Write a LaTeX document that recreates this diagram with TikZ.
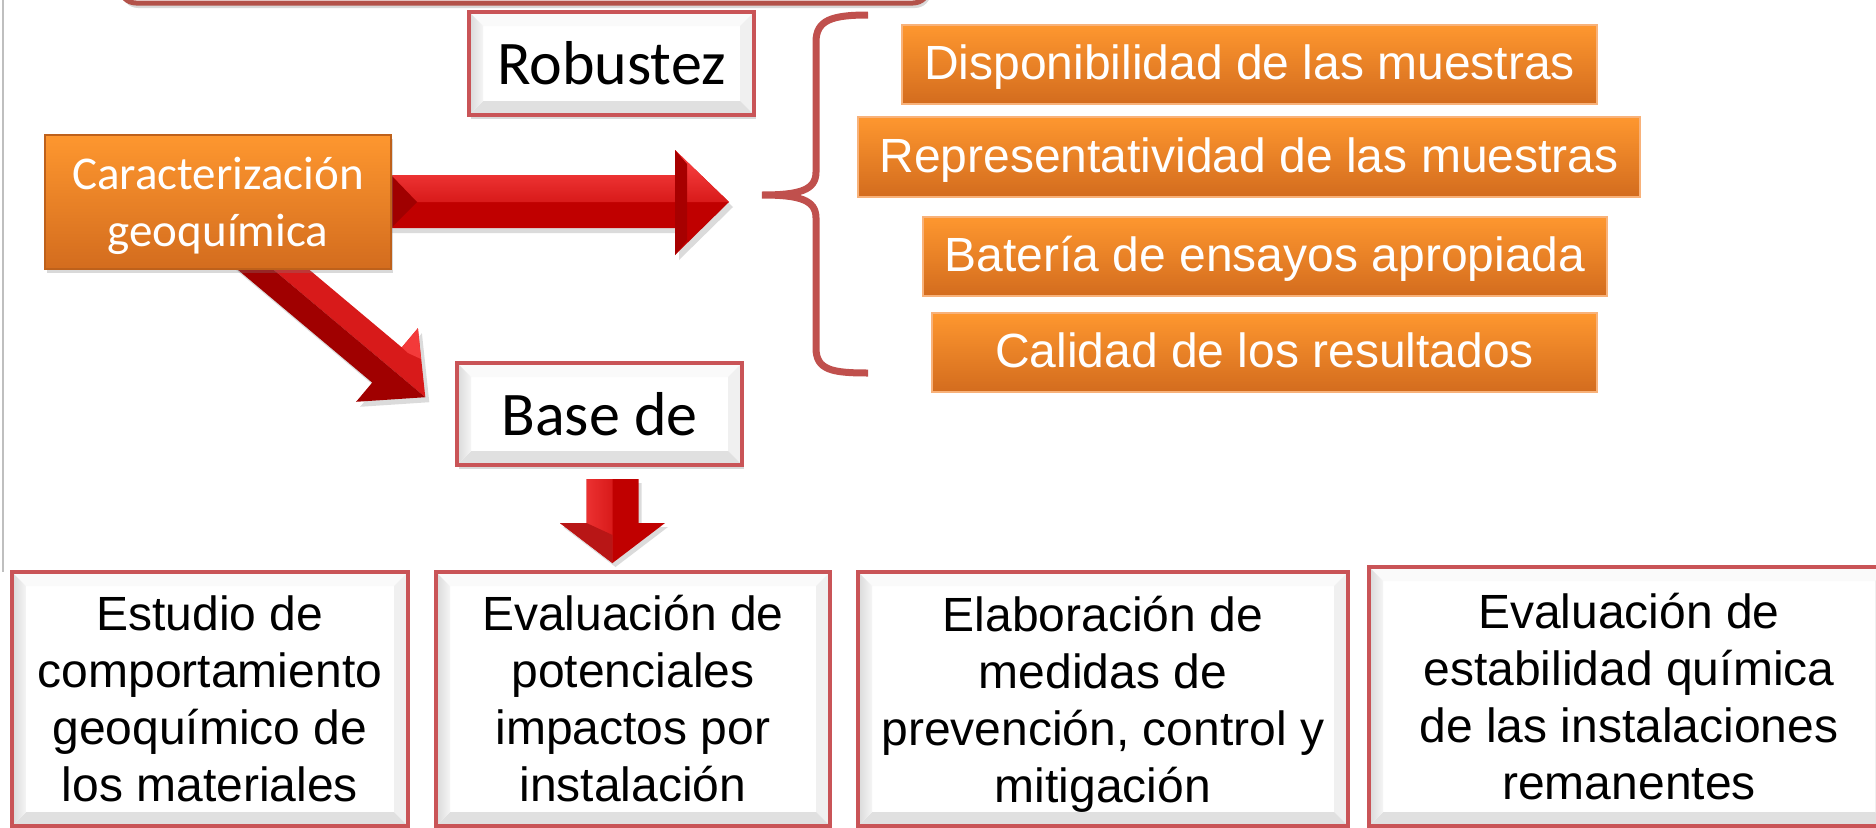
\documentclass[tikz,border=0pt]{standalone}
\usepackage{fontspec}
\setmainfont{Liberation Sans}
\newfontfamily\calib{Carlito}
\usetikzlibrary{shadows,calc}
\definecolor{bord}{HTML}{C95457}
\definecolor{topred}{HTML}{B3524A}
\definecolor{braceRed}{HTML}{C0504D}
\definecolor{oTop}{HTML}{FE972F}
\definecolor{oBot}{HTML}{D36C1E}
\definecolor{oEdge}{HTML}{F8B27A}
\definecolor{rLight}{HTML}{FF4848}
\definecolor{rMid}{HTML}{D81A1A}
\definecolor{rDark}{HTML}{C00000}
\definecolor{rDeep}{HTML}{A00000}
\newcommand{\nodepth}[1]{\raisebox{0pt}[\height][0pt]{#1}}
\pgfdeclarelayer{back}
\pgfsetlayers{back,main}
\begin{document}
\begin{tikzpicture}[x=1pt,y=-1pt,
  bev/.style={rectangle, draw=bord, line width=4pt, fill=white, inner sep=0pt, outer sep=0pt,
    align=center, text=black,
    drop shadow={shadow xshift=1.5pt, shadow yshift=-4pt, opacity=0.3},
    path picture={
      \path (path picture bounding box.north west) coordinate (pNW)
            (path picture bounding box.north east) coordinate (pNE)
            (path picture bounding box.south west) coordinate (pSW)
            (path picture bounding box.south east) coordinate (pSE);
      \fill[gray!4] (pNW) -- (pNE) -- ([xshift=-14pt,yshift=-14pt]pNE) -- ([xshift=14pt,yshift=-14pt]pNW) -- cycle;
      \fill[gray!12] (pNE) -- (pSE) -- ([xshift=-14pt,yshift=14pt]pSE) -- ([xshift=-14pt,yshift=-14pt]pNE) -- cycle;
      \fill[gray!24] (pSW) -- (pSE) -- ([xshift=-14pt,yshift=14pt]pSE) -- ([xshift=14pt,yshift=14pt]pSW) -- cycle;
      \shade[left color=gray!30, right color=gray!8] (pNW) -- (pSW) -- ([xshift=14pt,yshift=14pt]pSW) -- ([xshift=14pt,yshift=-14pt]pNW) -- cycle;
    }},
  cal/.style={font=\calib\fontsize{62}{70}\selectfont},
  btext/.style={font=\fontsize{48}{57}\selectfont},
  obox/.style={rectangle, draw=oEdge, line width=1.8pt, top color=oTop, bottom color=oBot,
    text=white, inner sep=0pt, outer sep=0pt, align=center, font=\fontsize{48}{57}\selectfont},
  oline/.style={obox, text height=35pt, text depth=5pt},
  ashadow/.style={black, opacity=0.14}
]
\useasboundingbox (0,0) rectangle (1876,827);
\clip (0,0) rectangle (1876,827);

% thin grey rule on the left
\draw[gray!50, line width=1.2pt] (3,0) -- (3,572);

% partially visible top box
\node[draw=topred, line width=5pt, fill=white, rounded corners=16pt, minimum width=809pt,
      minimum height=100pt, outer sep=0pt,
      drop shadow={shadow xshift=2pt, shadow yshift=-5pt, opacity=0.3}] (topbox) at (524.5,-47) {};

% bevelled boxes
\node[bev, cal, minimum width=285pt, minimum height=103pt] (rob) at (611.5,63.5) {\raisebox{-2pt}{Robustez}};
\node[bev, cal, minimum width=285pt, minimum height=102pt] (base) at (599.5,414) {Base de};

% orange source box
\node[obox, draw=oBot!90!black, font=\calib\fontsize{47}{57}\selectfont, minimum width=346pt, minimum height=134pt,
      drop shadow={shadow xshift=2pt, shadow yshift=-4pt, opacity=0.3}] (car) at (218,202)
      {Caracterización\\\nodepth{geoquímica}};

% orange list
\node[oline, minimum width=695pt, minimum height=79pt] (o1) at (1249.5,64.5) {Disponibilidad de las muestras};
\node[oline, minimum width=782pt, minimum height=80pt] (o2) at (1249,157) {Representatividad de las muestras};
\node[oline, minimum width=684pt, minimum height=79pt] (o3) at (1265,256.5) {Batería de ensayos apropiada};
\node[oline, minimum width=665pt, minimum height=79pt] (o4) at (1264.5,352.5) {Calidad de los resultados};

% bottom boxes
\node[bev, btext, minimum width=396pt, minimum height=254pt] (b1) at (210,699)
  {Estudio de\\comportamiento\\geoquímico de\\los materiales};
\node[bev, btext, minimum width=394pt, minimum height=254pt] (b2) at (633,699)
  {Evaluación de\\potenciales\\impactos por\\instalación};
\node[bev, btext, minimum width=490pt, minimum height=254pt] (b3) at (1103,699)
  {Elaboración de\\medidas de\\prevención, control y\\\nodepth{mitigación}};
\node[bev, btext, minimum width=520pt, minimum height=259pt] (b4) at (1629,696.5)
  {Evaluación de\\estabilidad química\\de las instalaciones\\remanentes};

% brace
\draw[braceRed, line width=7pt]
  (868,15) .. controls (832,15) and (816,20) .. (816,42) -- (816,172)
  .. controls (816,190) and (800,195) .. (762,195)
  .. controls (800,195) and (816,200) .. (816,218) -- (816,348)
  .. controls (816,370) and (832,373) .. (868,373);

\begin{pgfonlayer}{back}
  % right block arrow
  \begin{scope}[shift={(car.east)}]
    \fill[ashadow] (-20,-22) -- (288,-22) -- (288,-47) -- (342,5) -- (288,58) -- (288,31) -- (-20,31) -- cycle;
    \fill[rDark] (-20,-27) -- (284,-27) -- (284,-52) -- (338,0) -- (284,53) -- (284,26) -- (-20,26) -- cycle;
    \shade[top color=rLight, bottom color=rMid] (-20,-27) -- (284,-27) -- (284,-52) -- (338,0) -- (-20,0) -- cycle;
    \fill[rDeep] (0,-27) -- (26,0) -- (0,26) -- cycle;
    \fill[rDeep!80!rDark] (284,-52) -- (296,-38) -- (296,38) -- (284,53) -- cycle;
  \end{scope}
  % diagonal block arrow
  \begin{scope}[shift={(car.south)}]
    \fill[ashadow] (34.6,-45.2) -- (187.8,83.4) -- (203.9,64.2) -- (211.3,133.2) -- (142.1,137.8) -- (158.2,118.6) -- (5,-10) -- cycle;
    \fill[rMid] (30.6,-50.2) -- (183.8,78.4) -- (199.9,59.2) -- (207.3,128.2) -- (169,96) -- (15.8,-32.6) -- cycle;
    \fill[rDeep] (15.8,-32.6) -- (169,96) -- (207.3,128.2) -- (138.1,132.8) -- (154.2,113.6) -- (1.0,-15.0) -- cycle;
    \fill[rLight!70!rMid] (183.8,78.4) -- (199.9,59.2) -- (203,90) -- (190,84) -- cycle;
  \end{scope}
  % down block arrow
  \begin{scope}[shift={(base.south)}]
    \fill[ashadow] (-10,18) -- (42,18) -- (42,62) -- (68.5,62) -- (16,102) -- (-36.5,62) -- (-10,62) -- cycle;
    \fill[rDark] (-13,14) -- (39,14) -- (39,58) -- (65.5,58) -- (13,98) -- (-39.5,58) -- (-13,58) -- cycle;
    \shade[left color=rLight, right color=rMid] (-13,14) -- (13,14) -- (13,98) -- (-39.5,58) -- (-13,58) -- cycle;
    \fill[rMid!85!black] (-39.5,58) -- (13,98) -- (13,70) -- (-13,58) -- cycle;
  \end{scope}
\end{pgfonlayer}
\end{tikzpicture}
\end{document}
